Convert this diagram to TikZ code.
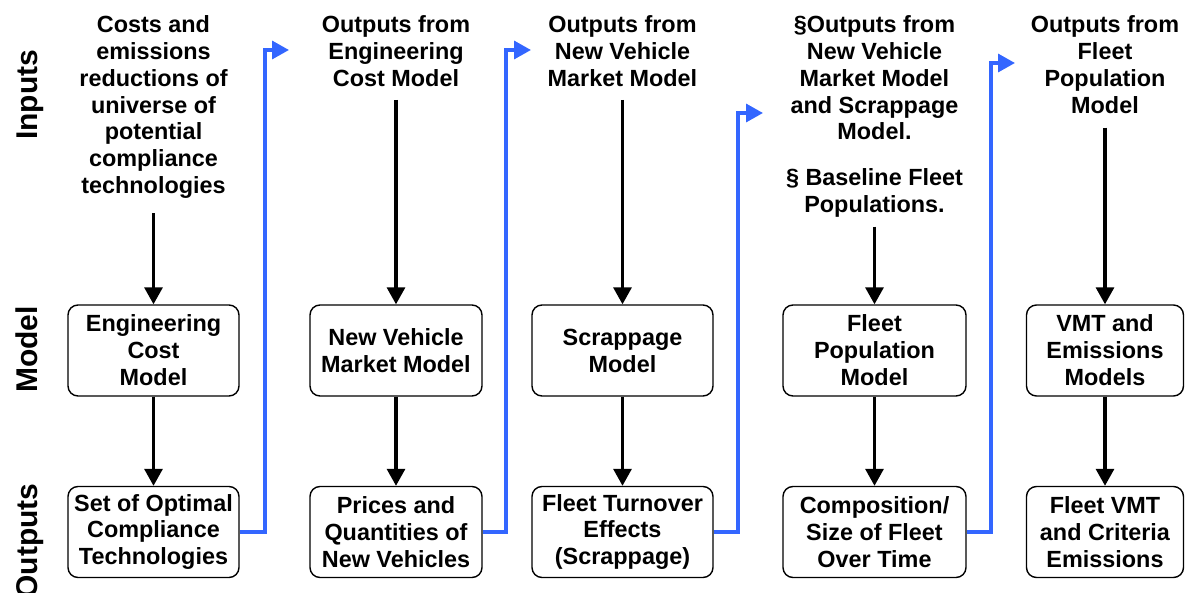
\documentclass[tikz,border=0pt]{standalone}
\usepackage{fontspec}
\setmainfont{Liberation Sans}
\usetikzlibrary{arrows.meta}
\definecolor{linkblue}{RGB}{51,102,255}
\newcommand{\flowfont}{\fontsize{11.7}{13.45}\selectfont\bfseries}
\newcommand{\bandfont}{\fontsize{15}{18}\selectfont\bfseries}
\begin{document}
\begin{tikzpicture}[x=0.5pt,y=-0.5pt,
  hdr/.style={align=center,inner sep=0pt,anchor=north,font=\flowfont},
  stagebox/.style={draw,line width=0.7pt,rounded corners=5pt,align=center,
    inner sep=0pt,minimum height=45.5pt,font=\flowfont},
  band/.style={rotate=90,anchor=base,inner sep=0pt,font=\bandfont},
  flow/.style={line width=1.6pt,-{Triangle[length=8.5pt,width=9pt]}},
  link/.style={linkblue,line width=1.7pt,-{Triangle[length=8.5pt,width=9pt]}}]
\useasboundingbox (0,0) rectangle (1185,593);

% row labels
\node[band] (lin) at (37,95) {Inputs};
\node[band] (lmo) at (37,349.5) {Model};
\node[band] (lout) at (37,541) {Outputs};

% column inputs
\node[hdr] (h1) at (153.5,15) {Costs and\\emissions\\reductions of\\universe of\\potential\\compliance\\technologies};
\node[hdr] (h2) at (396,15) {Outputs from\\Engineering\\Cost Model};
\node[hdr] (h3) at (622.5,15) {Outputs from\\New Vehicle\\Market Model};
\node[hdr] (h4) at (874.5,15) {\S Outputs from\\New Vehicle\\Market Model\\and Scrappage\\Model.};
\node[hdr] (b4) at (874.5,168) {\S\ Baseline Fleet\\Populations.};
\node[hdr] (h5) at (1105,15) {Outputs from\\Fleet\\Population\\Model};

% models
\node[stagebox,minimum width=85.5pt] (m1) at (153.5,350.5) {Engineering\\Cost\\Model};
\node[stagebox,minimum width=86pt] (m2) at (396,350.5) {New Vehicle\\Market Model};
\node[stagebox,minimum width=90.5pt] (m3) at (622.5,350.5) {Scrappage\\Model};
\node[stagebox,minimum width=91.5pt] (m4) at (874.5,350.5) {Fleet\\Population\\Model};
\node[stagebox,minimum width=78.5pt] (m5) at (1105,350.5) {VMT and\\Emissions\\Models};

% outputs
\node[stagebox,minimum width=85.5pt] (o1) at (153.5,532) {Set of Optimal\\Compliance\\Technologies};
\node[stagebox,minimum width=86pt] (o2) at (396,532) {Prices and\\Quantities of\\New Vehicles};
\node[stagebox,minimum width=90.5pt] (o3) at (622.5,532) {Fleet Turnover\\Effects\\(Scrappage)};
\node[stagebox,minimum width=91.5pt] (o4) at (874.5,532) {Composition/\\Size of Fleet\\Over Time};
\node[stagebox,minimum width=78.5pt] (o5) at (1105,532) {Fleet VMT\\and Criteria\\Emissions};

% inputs -> models -> outputs
\draw[flow,shorten <=7pt] (h1.south) -- (m1.north);
\draw[flow,shorten <=6.5pt] (h2.south) -- (m2.north);
\draw[flow,shorten <=6.5pt] (h3.south) -- (m3.north);
\draw[flow,shorten <=4.5pt] (b4.south) -- (m4.north);
\draw[flow,shorten <=7pt] (h5.south) -- (m5.north);
\foreach \i in {1,...,5} \draw[flow] (m\i.south) -- (o\i.north);

% outputs feeding the next column
\coordinate (j1) at (265,50);  \coordinate (t1) at (289,50);
\coordinate (j2) at (506,50);  \coordinate (t2) at (531,50);
\coordinate (j3) at (738,113); \coordinate (t3) at (763,113);
\coordinate (j4) at (991,63);  \coordinate (t4) at (1015,63);
\draw[link] (o1.east) -| (j1) -- (t1);
\draw[link] (o2.east) -| (j2) -- (t2);
\draw[link] (o3.east) -| (j3) -- (t3);
\draw[link] (o4.east) -| (j4) -- (t4);
\end{tikzpicture}
\end{document}
